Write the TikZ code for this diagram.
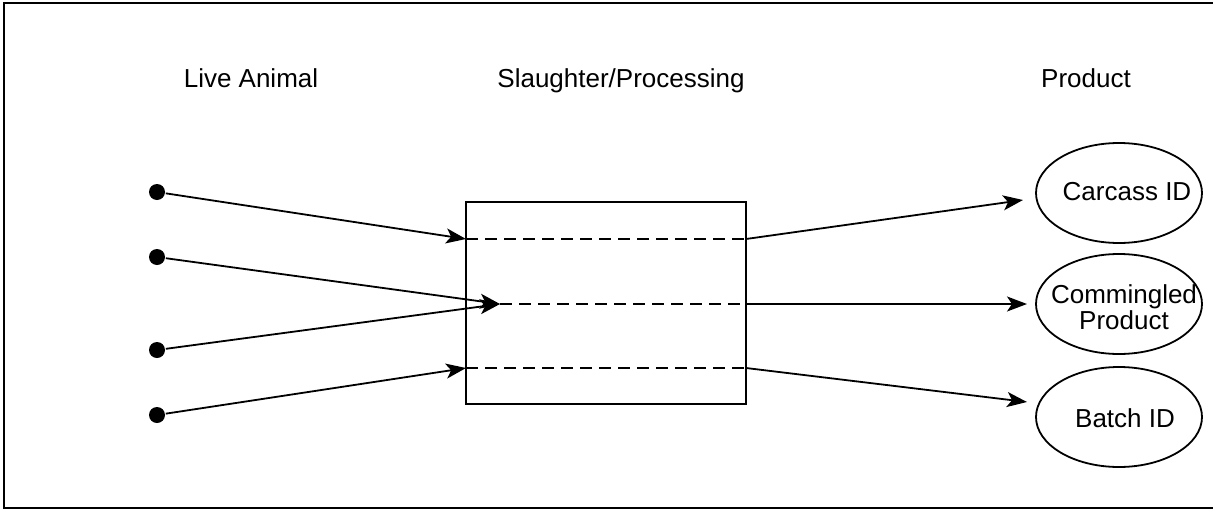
\documentclass[tikz,border=0pt]{standalone}
\usepackage{fontspec}
\setmainfont{Liberation Sans}
\usetikzlibrary{arrows.meta,shapes.geometric}
\begin{document}
\begin{tikzpicture}[x=1pt,y=-1pt, line width=1.8pt,
 dot/.style={circle,fill=black,inner sep=0pt,minimum size=16pt},
 conn/.style={-{Stealth[length=20pt,width=15pt,inset=5pt]}},
 prod/.style={ellipse,draw,minimum width=166pt,minimum height=100pt,inner sep=0pt},
 ptext/.style={align=center,inner sep=0pt,font=\fontsize{26}{26}\selectfont},
 title/.style={anchor=base,font=\fontsize{26}{30}\selectfont},
 lane/.style={dash pattern=on 12pt off 7pt}]
\useasboundingbox (0,0) rectangle (1213,509);
\begin{scope}
\clip (0,0) rectangle (1213,509);
\draw[line width=2pt] (4,3) rectangle (1230,508);
\end{scope}
% titles
\node[title] (t1) at (251,87) {Live Animal};
\node[title] (t2) at (621,87) {Slaughter/Processing};
\node[title] (t3) at (1086,87) {Product};
% live animals
\node[dot] (d1) at (157,192) {};
\node[dot] (d2) at (157,257) {};
\node[dot] (d3) at (157,350) {};
\node[dot] (d4) at (157,415) {};
% processing box
\node[draw,minimum width=280pt,minimum height=202pt,inner sep=0pt] (box) at (606,303) {};
\coordinate (l1) at (466,239);
\coordinate (r1) at (746,239);
\coordinate (m) at (500,304);
\coordinate (r2) at (746,304);
\coordinate (l3) at (466,368);
\coordinate (r3) at (746,368);
\draw[lane] (l1) -- (r1);
\draw[lane] (m) -- (r2);
\draw[lane] (l3) -- (r3);
% products
\node[prod] (e1) at (1119,193) {};
\node[prod] (e2) at (1119,304) {};
\node[prod] (e3) at (1119,417) {};
\node[ptext] (e1t) at (1127,192) {Carcass ID};
\node[ptext] (e2t) at (1124,307) {Commingled\\Product};
\node[ptext] (e3t) at (1125,418) {Batch ID};
\coordinate (a1) at (1023,200);
\coordinate (a2) at (1027,304);
\coordinate (a3) at (1027,402);
% connectors
\draw[conn] (d1) -- (l1);
\draw[conn] (d2) -- (m);
\draw[conn] (d3) -- (m);
\draw[conn] (d4) -- (l3);
\draw[conn] (r1) -- (a1);
\draw[conn] (r2) -- (a2);
\draw[conn] (r3) -- (a3);
\end{tikzpicture}
\end{document}
